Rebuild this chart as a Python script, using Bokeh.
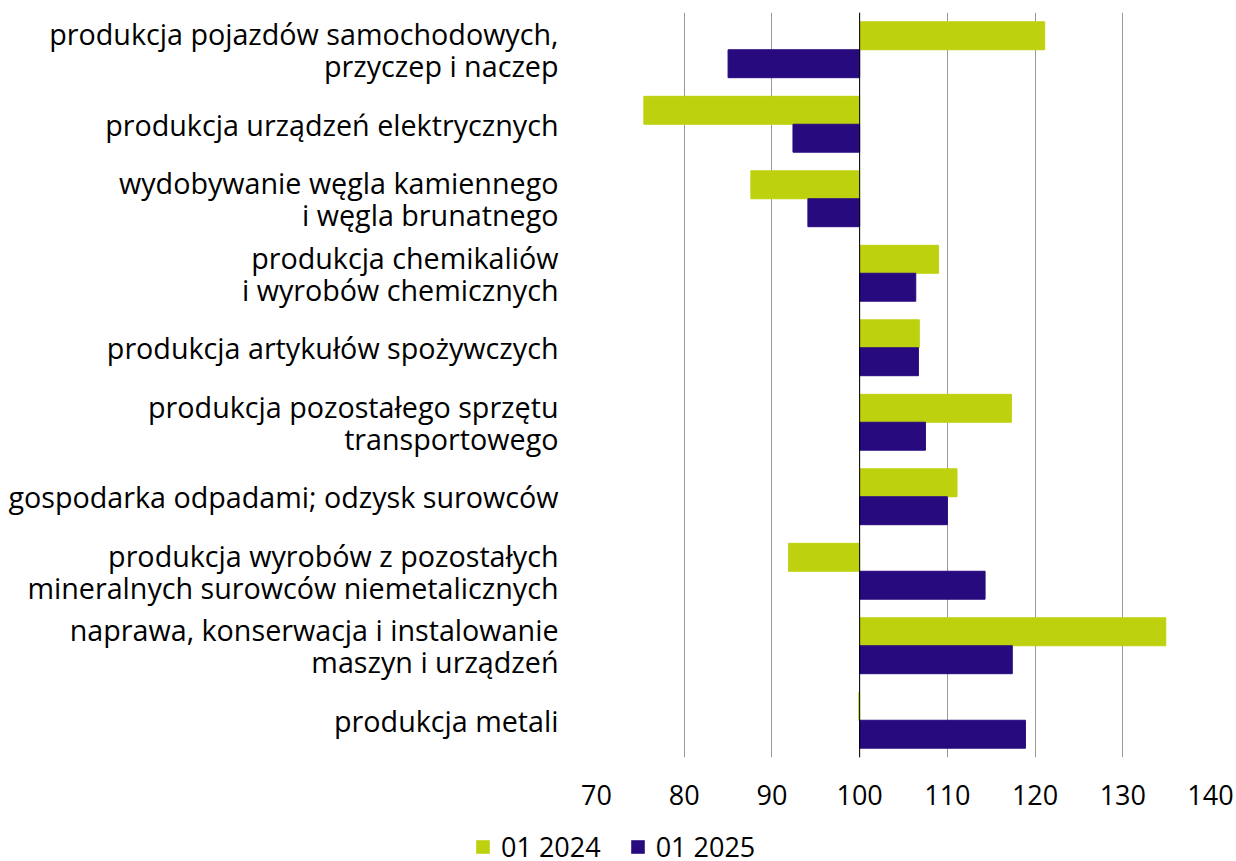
from bokeh.plotting import figure
from bokeh.layouts import column
from bokeh.models import ColumnDataSource, FactorRange, Range1d, Legend, LegendItem, Span, FixedTicker
from bokeh.transform import dodge
from bokeh.embed import file_html
from bokeh.resources import INLINE

categories = [
    "produkcja pojazdów samochodowych,\nprzyczep i naczep",
    "produkcja urządzeń elektrycznych",
    "wydobywanie węgla kamiennego\ni węgla brunatnego",
    "produkcja chemikaliów\ni wyrobów chemicznych",
    "produkcja artykułów spożywczych",
    "produkcja pozostałego sprzętu\ntransportowego",
    "gospodarka odpadami; odzysk surowców",
    "produkcja wyrobów z pozostałych\nmineralnych surowców niemetalicznych",
    "naprawa, konserwacja i instalowanie\nmaszyn i urządzeń",
    "produkcja metali",
]
v_2024 = [121.1, 75.4, 87.6, 109.0, 106.8, 117.3, 111.1, 91.9, 134.9, 99.9]
v_2025 = [85.0, 92.4, 94.1, 106.4, 106.7, 107.5, 110.0, 114.3, 117.4, 118.9]
series_labels = ["01 2024", "01 2025"]
x_ticks = [70, 80, 90, 100, 110, 120, 130, 140]
baseline = 100

GREEN = "#BED10E"
PURPLE = "#280A7F"
FONT = "Open Sans"

src = ColumnDataSource(dict(cat=categories, v24=v_2024, v25=v_2025,
                            base=[baseline] * len(categories)))

p = figure(
    y_range=FactorRange(factors=list(reversed(categories))),
    x_range=Range1d(70, 140),
    frame_width=614, frame_height=745,
    min_border_left=596, min_border_top=12, min_border_right=24, min_border_bottom=66,
    output_backend="svg", toolbar_location=None,
)

r1 = p.hbar(y=dodge("cat", 0.1875, range=p.y_range), left="base", right="v24",
            height=0.375, source=src, fill_color=GREEN, line_color=GREEN)
r2 = p.hbar(y=dodge("cat", -0.1875, range=p.y_range), left="base", right="v25",
            height=0.375, source=src, fill_color=PURPLE, line_color=PURPLE)

p.add_layout(Span(location=baseline, dimension="height", line_color="#000000", line_width=1))

p.outline_line_color = None
p.ygrid.grid_line_color = None
p.xgrid.ticker = FixedTicker(ticks=x_ticks)
p.xgrid.grid_line_color = "#9A9A9A"
p.xgrid.grid_line_width = 1

p.xaxis.ticker = FixedTicker(ticks=x_ticks)
p.xaxis.axis_line_color = None
p.xaxis.major_tick_line_color = None
p.xaxis.minor_tick_line_color = None
p.xaxis.major_label_standoff = 21
p.xaxis.major_label_text_font = FONT
p.xaxis.major_label_text_font_size = "27px"
p.xaxis.major_label_text_color = "#000000"

p.yaxis.axis_line_color = None
p.yaxis.major_tick_line_color = None
p.yaxis.major_tick_out = 0
p.yaxis.major_label_standoff = 38
p.yaxis.major_label_text_font = FONT
p.yaxis.major_label_text_font_size = "28.7px"
p.yaxis.major_label_text_line_height = 0.83
p.yaxis.major_label_text_color = "#000000"

# Legend strip below the chart
lf = figure(width=1234, height=38, x_range=Range1d(0, 1), y_range=Range1d(0, 1),
            x_axis_location=None, y_axis_location=None, min_border=0,
            output_backend="svg", toolbar_location=None)
lf.outline_line_color = None
lf.grid.grid_line_color = None

leg_x = 0
try:
    p.frame_align = False
    lf.frame_align = False
    leg_x = 474
except Exception:
    leg_x = 0

# legend-key renderers (zero-width, outside the strip's visible range)
key_src = ColumnDataSource(dict(y=[-10], left=[0], right=[0]))
k1 = lf.hbar(y="y", left="left", right="right", height=0.5, source=key_src,
             fill_color=GREEN, line_color=None)
k2 = lf.hbar(y="y", left="left", right="right", height=0.5, source=key_src,
             fill_color=PURPLE, line_color=None)
legend = Legend(
    items=[LegendItem(label=series_labels[0], renderers=[k1]),
           LegendItem(label=series_labels[1], renderers=[k2])],
    orientation="horizontal", location=(leg_x, -4),
    border_line_color=None, background_fill_alpha=0,
    label_text_font=FONT, label_text_font_size="27px", label_text_color="#000000",
    glyph_width=17, glyph_height=17, spacing=28, label_standoff=10,
    padding=0, margin=0,
)
lf.add_layout(legend, "center")

layout = column(p, lf, spacing=0)
open("out.html", "w").write(file_html(layout, INLINE))
